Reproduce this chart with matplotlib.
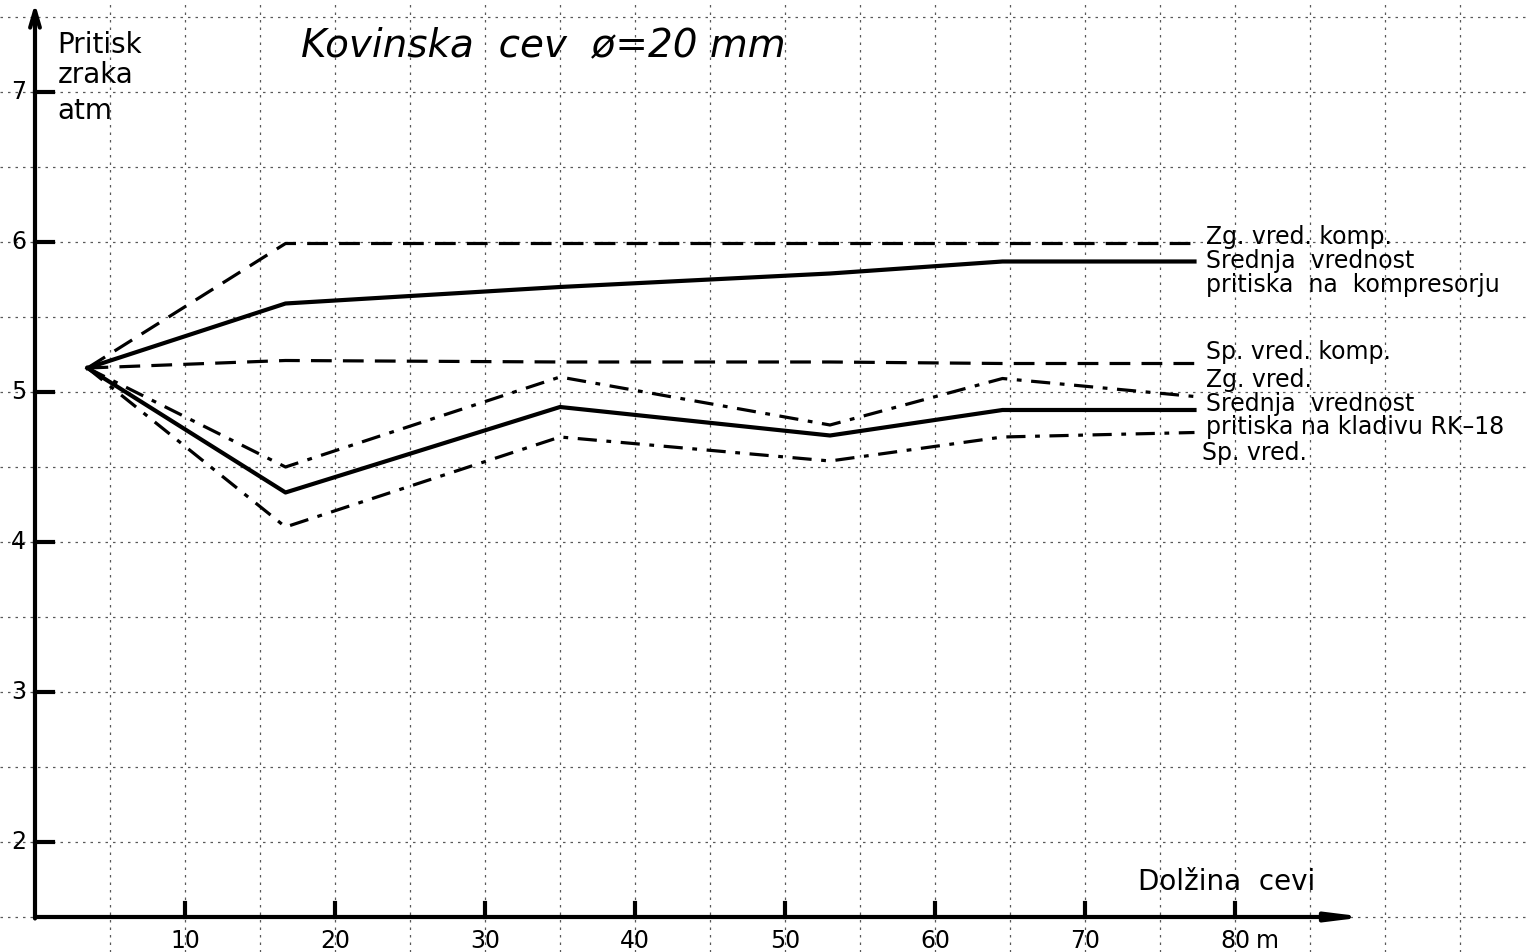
import matplotlib
matplotlib.use("Agg")
import matplotlib.pyplot as plt
import numpy as np

# pipe length (m) at the measuring points
dolzina = [3.5, 16.7, 35.0, 53.0, 64.5, 77.3]

# compressor side
zg_komp = [5.16, 5.99, 5.99, 5.99, 5.99, 5.99]
sr_komp = [5.16, 5.59, 5.70, 5.79, 5.87, 5.87]
sp_komp = [5.16, 5.21, 5.20, 5.20, 5.19, 5.19]

# hammer RK-18 side
zg_klad = [5.16, 4.50, 5.10, 4.78, 5.09, 4.97]
sr_klad = [5.16, 4.33, 4.90, 4.71, 4.88, 4.88]
sp_klad = [5.16, 4.10, 4.70, 4.54, 4.70, 4.73]

x_ticks = [10, 20, 30, 40, 50, 60, 70, 80]
y_ticks = [2, 3, 4, 5, 6, 7]

labels_komp = ["Zg. vred. komp.", "Srednja  vrednost", "pritiska  na  kompresorju", "Sp. vred. komp."]
labels_klad = ["Zg. vred.", "Srednja  vrednost", "pritiska na kladivu RK\u201318", "Sp. vred."]

plt.rcParams["font.family"] = ["DejaVu Sans"]

fig = plt.figure(figsize=(15.28, 9.52), dpi=100)
ax = fig.add_axes([0, 0, 1, 1])
ax.set_xlim(-35 / 15, 1493 / 15)
ax.set_ylim(7.6133 - 952 / 150, 7.6133)
ax.axis("off")

# graph paper
grid_kw = dict(color="0.35", lw=0.9, linestyle=(0, (2, 4)), zorder=0)
for gx in np.arange(5, 100, 5):
    ax.axvline(gx, **grid_kw)
for gy in np.arange(1.5, 7.6, 0.5):
    ax.axhline(gy, **grid_kw)

# axes with arrows
ax.annotate("", xy=(0, 7.59), xytext=(0, 1.49),
            arrowprops=dict(arrowstyle="->,head_length=1.2,head_width=0.35", lw=3, color="black",
                            shrinkA=0, shrinkB=0))
ax.annotate("", xy=(88.7, 1.5), xytext=(0, 1.5),
            arrowprops=dict(arrowstyle="-|>,head_length=2.0,head_width=0.25", lw=3, color="black",
                            shrinkA=0, shrinkB=0))

for xt in x_ticks:
    ax.plot([xt, xt], [1.5, 1.59], color="black", lw=3)
    ax.text(xt, 1.29, str(xt), ha="center", va="baseline", fontsize=17)
ax.text(81.4, 1.29, "m", ha="left", va="baseline", fontsize=17)

for yt in y_ticks:
    ax.plot([0, 1.2], [yt, yt], color="black", lw=3)
    ax.text(-0.6, yt, str(yt), ha="right", va="center", fontsize=17)

# curves
dash = (0, (6.5, 3.5))
dashdot = (0, (6, 3, 1.5, 3))
ax.plot(dolzina, zg_komp, color="black", lw=2.3, linestyle=dash)
ax.plot(dolzina, sr_komp, color="black", lw=3.0)
ax.plot(dolzina, sp_komp, color="black", lw=2.3, linestyle=dash)
ax.plot(dolzina, zg_klad, color="black", lw=2.3, linestyle=dashdot)
ax.plot(dolzina, sr_klad, color="black", lw=3.0)
ax.plot(dolzina, sp_klad, color="black", lw=2.3, linestyle=dashdot)

# labels at the right end of the curves
txt = dict(fontsize=17, ha="left", va="baseline")
ax.text(78.1, 5.985, labels_komp[0], **txt)
ax.text(78.1, 5.825, labels_komp[1], **txt)
ax.text(78.1, 5.665, labels_komp[2], **txt)
ax.text(78.1, 5.22, labels_komp[3], **txt)
ax.text(78.1, 5.035, labels_klad[0], **txt)
ax.text(78.1, 4.875, labels_klad[1], **txt)
ax.text(78.1, 4.718, labels_klad[2], **txt)
ax.text(77.8, 4.548, labels_klad[3], **txt)

# axis titles
ax.text(1.5, 7.26, "Pritisk", fontsize=20, ha="left", va="baseline")
ax.text(1.5, 7.06, "zraka", fontsize=20, ha="left", va="baseline")
ax.text(1.5, 6.82, "atm", fontsize=20, ha="left", va="baseline")
ax.text(73.5, 1.68, "Dol\u017eina  cevi", fontsize=20, ha="left", va="baseline")

ax.text(33.9, 7.31, "Kovinska  cev  \u00f8=20 mm", fontsize=28, style="italic",
        ha="center", va="center")

fig.savefig("out.png", dpi=100)
